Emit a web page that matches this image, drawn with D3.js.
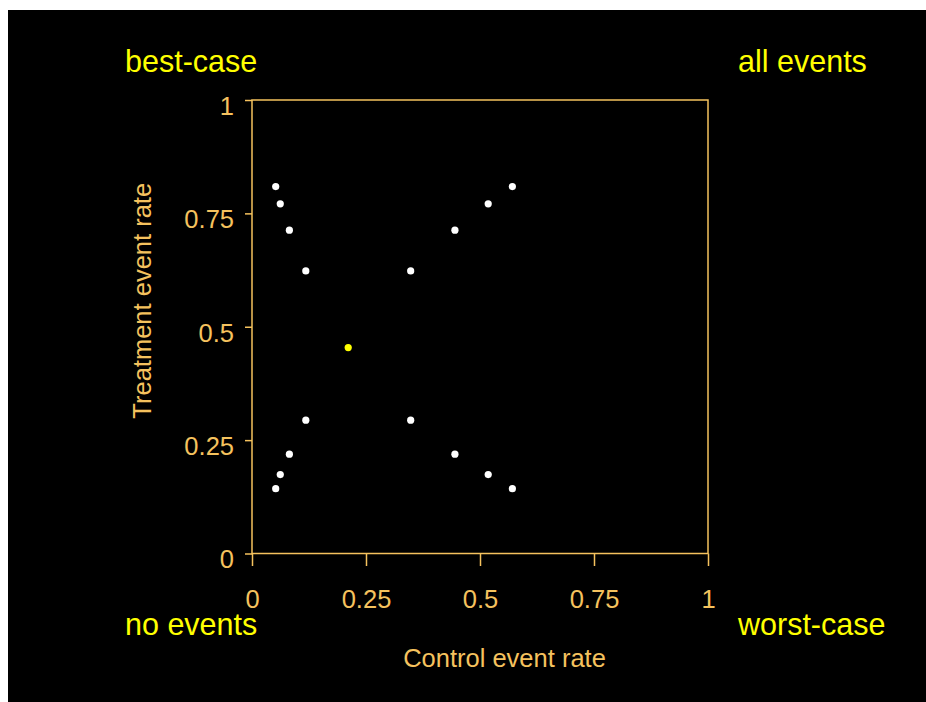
<!DOCTYPE html>
<html>
<head>
<meta charset="utf-8">
<script src="https://cdn.jsdelivr.net/npm/d3@7"></script>
<style>
  body { margin: 0; background: #fff; }
  #chart { position: absolute; left: 8px; top: 10px; }
  .axis_label { font-family: "Liberation Sans", Arial, sans-serif; font-size: 25.5px; fill: #f5c25e; }
  .corner { font-family: "Liberation Sans", Arial, sans-serif; font-size: 30.5px; fill: #ffff00; }
</style>
</head>
<body>
<div id="chart"></div>
<script>
// Data
const controlRate   = [0.052, 0.062, 0.082, 0.118, 0.348, 0.445, 0.518, 0.571,
                       0.118, 0.082, 0.062, 0.052, 0.348, 0.445, 0.518, 0.571];
const treatmentRate = [0.809, 0.771, 0.713, 0.623, 0.623, 0.713, 0.771, 0.809,
                       0.294, 0.219, 0.174, 0.143, 0.294, 0.219, 0.174, 0.143];
const pooledPoint = [0.211, 0.454];
const tickValues = [0, 0.25, 0.5, 0.75, 1];
const cornerLabels = ["best-case", "all events", "no events", "worst-case"];
const xLabelText = "Control event rate";
const yLabelText = "Treatment event rate";

let margin = {top: 90, left: 244, right: 210, bottom: 148.5},
    width = 456,
    height = 453.5;

const svg = d3.select("#chart")
  .append("svg")
    .attr("width", 918)
    .attr("height", 692);

svg.append("rect")
    .attr("width", 918)
    .attr("height", 692)
    .attr("fill", "#000");

const g = svg.append("g")
    .attr("transform", "translate(" + margin.left + "," + margin.top + ")");

const xScale = d3.scaleLinear().domain([0, 1]).range([0, width]);
const yScale = d3.scaleLinear().domain([0, 1]).range([height, 0]);
const orange = "#f5c25e";

// X axis
const xAxis = g.append("g")
    .attr("transform", "translate(0," + height + ")")
    .call(d3.axisBottom(xScale).tickValues(tickValues).tickFormat(d3.format("")).tickSize(12.5).tickPadding(24));

// Y axis
const yAxis = g.append("g")
    .call(d3.axisLeft(yScale).tickValues(tickValues).tickFormat(d3.format("")).tickSize(7).tickPadding(11));

[xAxis, yAxis].forEach(function(ax) {
  ax.select(".domain").remove();
  ax.selectAll("line").attr("stroke", orange).attr("stroke-width", 1.5);
  ax.selectAll("text")
    .attr("fill", orange)
    .style("font-family", "'Liberation Sans', Arial, sans-serif")
    .style("font-size", "25.5px");
});
yAxis.selectAll("text").attr("dy", "0.56em");

// plot frame
g.append("rect")
    .attr("x", xScale(0))
    .attr("y", yScale(1))
    .attr("width", xScale(1) - xScale(0))
    .attr("height", yScale(0) - yScale(1))
    .attr("fill", "none")
    .attr("stroke", orange)
    .attr("stroke-width", 1.5);

// axis titles
g.append("text")
    .attr("class", "axis_label")
    .attr("x", width / 2 + 24.5)
    .attr("y", height + 113)
    .attr("text-anchor", "middle")
    .text(xLabelText);

g.append("text")
    .attr("class", "axis_label")
    .attr("transform", "translate(-101.5," + (height / 2 - 26) + ") rotate(-90)")
    .attr("text-anchor", "middle")
    .text(yLabelText);

// points
g.selectAll("circle.pt")
  .data(d3.zip(controlRate, treatmentRate))
  .enter()
  .append("circle")
    .attr("class", "pt")
    .attr("cx", d => xScale(d[0]))
    .attr("cy", d => yScale(d[1]))
    .attr("r", 3.6)
    .attr("fill", "#fff");

g.append("circle")
    .attr("cx", xScale(pooledPoint[0]))
    .attr("cy", yScale(pooledPoint[1]))
    .attr("r", 3.6)
    .attr("fill", "#ffff00");

// corner annotations
const cornerX = [-127, width + 30, -127, width + 30];
const cornerY = [-28.5, -28.5, height + 81, height + 81];
g.selectAll("text.corner")
  .data(cornerLabels)
  .enter()
  .append("text")
    .attr("class", "corner")
    .attr("x", (d, i) => cornerX[i])
    .attr("y", (d, i) => cornerY[i])
    .text(d => d);
</script>
</body>
</html>
